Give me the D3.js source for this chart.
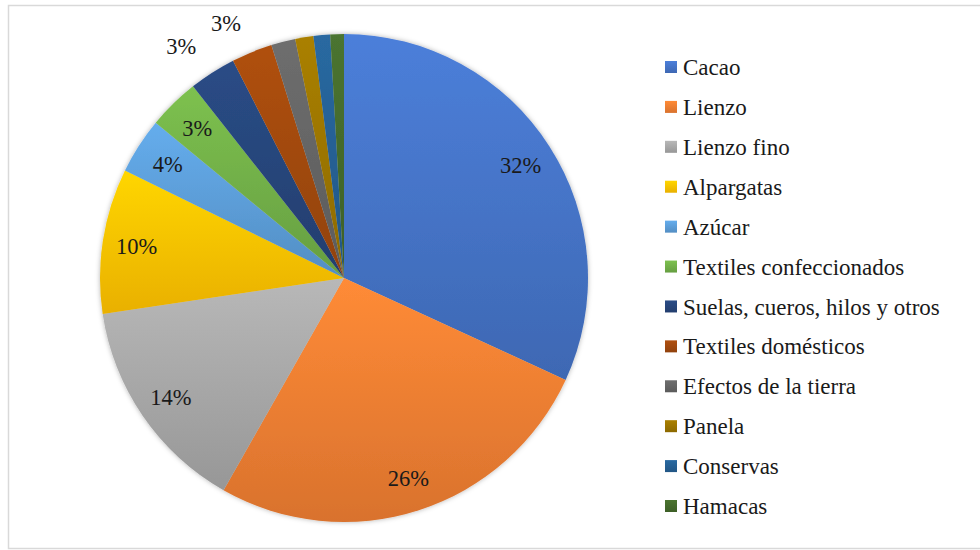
<!doctype html>
<html lang="es">
<head>
<meta charset="UTF-8">
<title>Exportaciones</title>
<script src="https://d3js.org/d3.v7.min.js"></script>
<style>
  body { margin: 0; background: #fff; }
</style>
</head>
<body>
<div id="chart"></div>
<script>
// data
const categories = ["Cacao", "Lienzo", "Lienzo fino", "Alpargatas", "Azúcar",
  "Textiles confeccionados", "Suelas, cueros, hilos y otros", "Textiles domésticos",
  "Efectos de la tierra", "Panela", "Conservas", "Hamacas"];
const values = [31.8, 26.3, 14.4, 9.6, 3.7, 3.4, 3.1, 2.7, 1.6, 1.2, 1.1, 0.9];
const colors = ["#4472C4", "#ED7D31", "#A5A5A5", "#FFC000", "#5B9BD5", "#70AD47",
  "#264478", "#9E480E", "#636363", "#997300", "#255E91", "#43682B"];
// which slices carry a label, and whether it sits outside the pie
const showLabel = [true, true, true, true, true, true, true, true, false, false, false, false];
const outside   = [false, false, false, false, false, false, true, true, false, false, false, false];

const width = 980, height = 550;
const cx = 344, cy = 278, radius = 244;
const serif = "'Liberation Serif', 'Times New Roman', serif";

const svg = d3.select("#chart").append("svg")
    .attr("width", width)
    .attr("height", height);

// chart frame
svg.append("rect")
    .attr("x", 8.5).attr("y", 5.5)
    .attr("width", 985).attr("height", 543)
    .attr("fill", "#fff")
    .attr("stroke", "#d9d9d9")
    .attr("stroke-width", 1.5);

const defs = svg.append("defs");
colors.forEach(function(c, i) {
  let g = defs.append("linearGradient")
      .attr("id", "grad" + i)
      .attr("x1", 0).attr("y1", 0).attr("x2", 0).attr("y2", 1);
  g.append("stop").attr("offset", "0%").attr("stop-color", d3.color(c).brighter(0.3));
  g.append("stop").attr("offset", "100%").attr("stop-color", d3.color(c).darker(0.25));
});
let shadow = defs.append("filter").attr("id", "shadow")
    .attr("x", "-10%").attr("y", "-10%").attr("width", "120%").attr("height", "120%");
shadow.append("feDropShadow")
    .attr("dx", 0).attr("dy", 0).attr("stdDeviation", 2.5)
    .attr("flood-color", "#000").attr("flood-opacity", 0.3);

const data = categories.map(function(c, i) { return {name: c, value: values[i], i: i}; });
const total = d3.sum(values);

const pie = d3.pie().sort(null).value(function(d) { return d.value; });
const arcs = pie(data);
const arc = d3.arc().innerRadius(0).outerRadius(radius);
const labelArc = d3.arc().innerRadius(radius * 0.86).outerRadius(radius * 0.86);
const outerArc = d3.arc().innerRadius(radius * 1.13).outerRadius(radius * 1.13);

const g = svg.append("g").attr("transform", "translate(" + cx + "," + cy + ")");

g.append("g").attr("filter", "url(#shadow)")
  .selectAll("path")
  .data(arcs)
  .enter()
  .append("path")
    .attr("d", arc)
    .attr("fill", function(d) { return "url(#grad" + d.data.i + ")"; })
    .attr("stroke", "none");

const fmt = d3.format(".0%");
g.selectAll("text.lbl")
  .data(arcs.filter(function(d) { return showLabel[d.data.i]; }))
  .enter()
  .append("text")
    .attr("class", "lbl")
    .attr("transform", function(d) {
      let p = outside[d.data.i] ? outerArc.centroid(d) : labelArc.centroid(d);
      // Excel nudges the outside labels a little to the left
      if (outside[d.data.i]) p[0] -= 14;
      return "translate(" + p[0] + "," + p[1] + ")";
    })
    .attr("text-anchor", "middle")
    .attr("dy", "0.35em")
    .style("font-family", serif)
    .style("font-size", "22.5px")
    .style("fill", "#1a1a1a")
    .text(function(d) { return fmt(d.data.value / total); });

// legend
const legendY = d3.scalePoint().domain(categories).range([67, 506]);
const legend = svg.append("g").attr("transform", "translate(665,0)");
let items = legend.selectAll("g")
  .data(data)
  .enter()
  .append("g")
    .attr("transform", function(d) { return "translate(0," + legendY(d.name) + ")"; });
items.append("rect")
    .attr("x", 0).attr("y", -6)
    .attr("width", 12).attr("height", 12)
    .attr("fill", function(d) { return "url(#grad" + d.i + ")"; });
items.append("text")
    .attr("x", 18)
    .attr("dy", "0.35em")
    .style("font-family", serif)
    .style("font-size", "23px")
    .style("fill", "#1a1a1a")
    .text(function(d) { return d.name; });
</script>
</body>
</html>
